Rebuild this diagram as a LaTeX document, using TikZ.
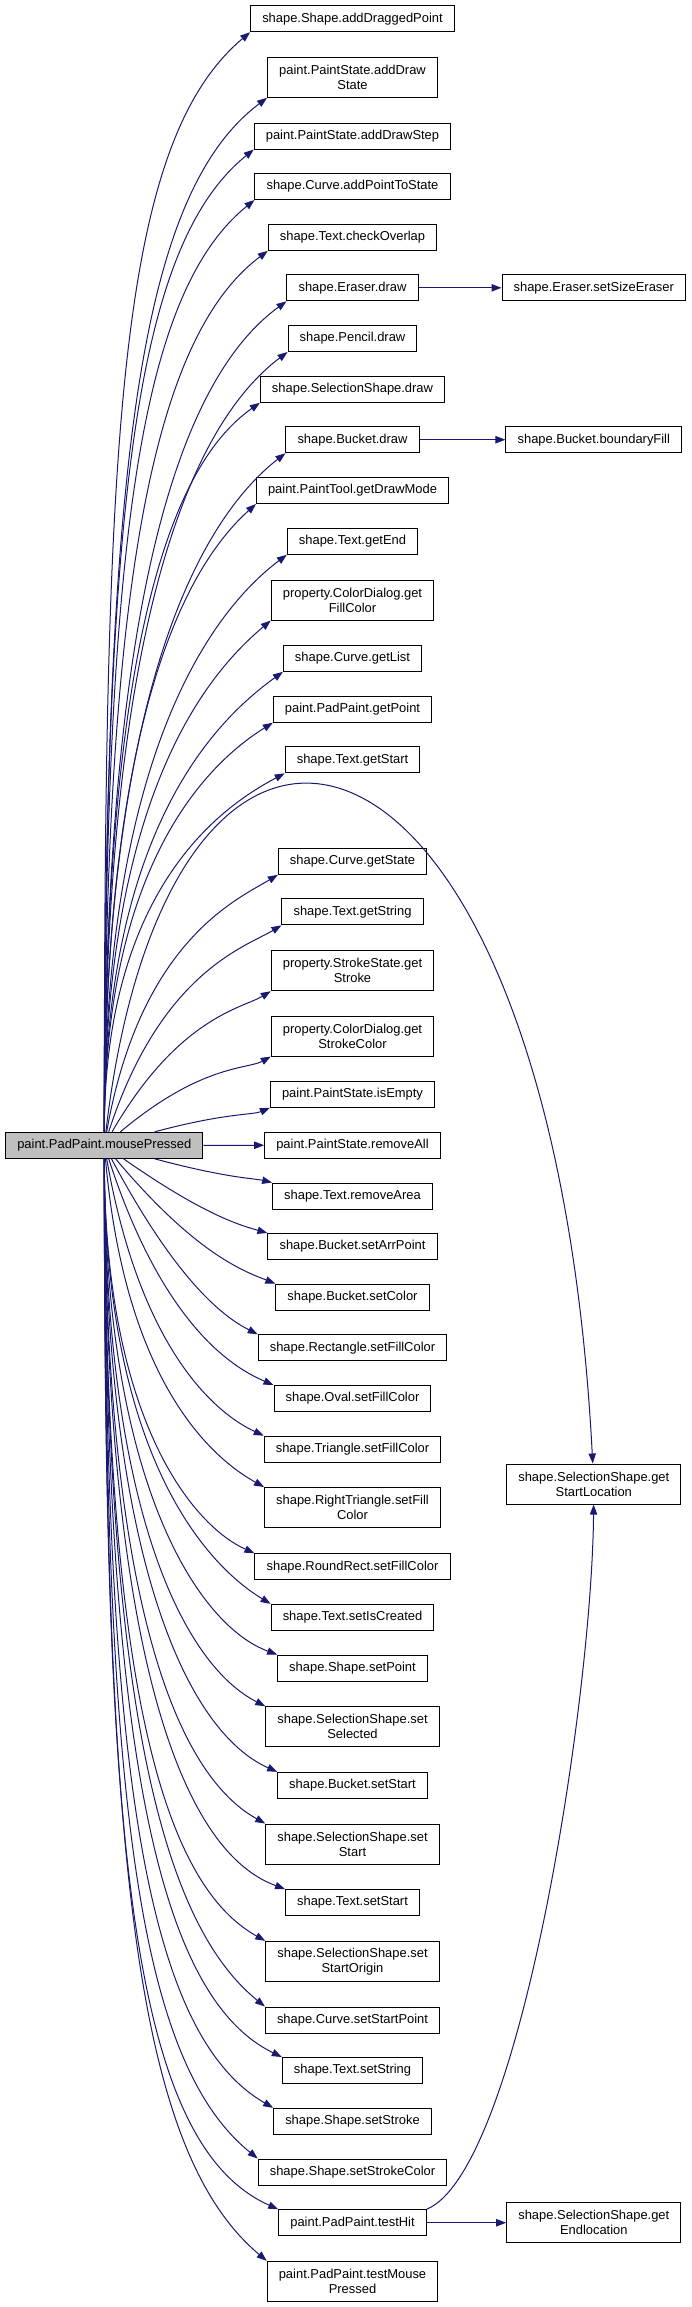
\documentclass[tikz,border=0pt]{standalone}
\usepackage{fontspec}
\setmainfont{Liberation Sans}
\usetikzlibrary{arrows.meta}
\definecolor{edgeblue}{HTML}{191970}
\definecolor{rootgray}{HTML}{BFBFBF}
\tikzset{
  fnnode/.style={draw=black, line width=0.75pt, fill=white, inner xsep=8.7pt, inner ysep=2pt, minimum height=19.5pt, align=center, font=\fontsize{9.7}{11.3}\selectfont},
  fnnode2/.style={fnnode, minimum height=30pt},
  rootnode/.style={fnnode, fill=rootgray},
  callarrow/.style={-{Triangle[length=7.5pt,width=5.5pt]}, draw=edgeblue, line width=0.75pt},
  farcall/.style={callarrow, out looseness=1.6, in looseness=0.4}
}
\begin{document}
\begin{tikzpicture}[x=0.75pt, y=0.75pt]
  \useasboundingbox (0,0) rectangle (692,-2307);
  \node[rootnode] (press) at (104.3,-1145.3) {paint.PadPaint.mousePressed};
  \node[fnnode] (drag) at (352.5,-18.7) {shape.Shape.addDraggedPoint};
  \node[fnnode2] (dstate) at (352.5,-77.3) {paint.PaintState.addDraw\\State};
  \node[fnnode] (dstep) at (352.5,-136) {paint.PaintState.addDrawStep};
  \node[fnnode] (ptstate) at (352.5,-186.5) {shape.Curve.addPointToState};
  \node[fnnode] (overlap) at (352.5,-237.3) {shape.Text.checkOverlap};
  \node[fnnode] (erdraw) at (352.5,-287.8) {shape.Eraser.draw};
  \node[fnnode] (ersize) at (593.8,-287.8) {shape.Eraser.setSizeEraser};
  \node[fnnode] (pcdraw) at (352.5,-338.5) {shape.Pencil.draw};
  \node[fnnode] (seldraw) at (352.5,-389.3) {shape.SelectionShape.draw};
  \node[fnnode] (bkdraw) at (352.5,-439.7) {shape.Bucket.draw};
  \node[fnnode] (bkfill) at (593.8,-439.7) {shape.Bucket.boundaryFill};
  \node[fnnode] (mode) at (352.5,-490.5) {paint.PaintTool.getDrawMode};
  \node[fnnode] (tend) at (352.5,-541.2) {shape.Text.getEnd};
  \node[fnnode2] (fillc) at (352.5,-600) {property.ColorDialog.get\\FillColor};
  \node[fnnode] (clist) at (352.5,-658.3) {shape.Curve.getList};
  \node[fnnode] (gpoint) at (352.5,-709.2) {paint.PadPaint.getPoint};
  \node[fnnode] (tstart) at (352.5,-759.8) {shape.Text.getStart};
  \node[fnnode] (cstate) at (352.5,-861.3) {shape.Curve.getState};
  \node[fnnode] (tstr) at (352.5,-911.8) {shape.Text.getString};
  \node[fnnode2] (stroke) at (352.5,-970.7) {property.StrokeState.get\\Stroke};
  \node[fnnode2] (strokec) at (352.5,-1036) {property.ColorDialog.get\\StrokeColor};
  \node[fnnode] (empty) at (352.5,-1094.3) {paint.PaintState.isEmpty};
  \node[fnnode] (rmall) at (352.5,-1145.2) {paint.PaintState.removeAll};
  \node[fnnode] (rmarea) at (352.5,-1196) {shape.Text.removeArea};
  \node[fnnode] (arrpt) at (352.5,-1246.5) {shape.Bucket.setArrPoint};
  \node[fnnode] (bkcolor) at (352.5,-1297.2) {shape.Bucket.setColor};
  \node[fnnode] (rectfc) at (352.5,-1347.8) {shape.Rectangle.setFillColor};
  \node[fnnode] (ovalfc) at (352.5,-1398.5) {shape.Oval.setFillColor};
  \node[fnnode] (trifc) at (352.5,-1449.2) {shape.Triangle.setFillColor};
  \node[fnnode2] (rtrifc) at (352.5,-1507.5) {shape.RightTriangle.setFill\\Color};
  \node[fnnode] (rrectfc) at (352.5,-1566.7) {shape.RoundRect.setFillColor};
  \node[fnnode] (created) at (352.5,-1617.3) {shape.Text.setIsCreated};
  \node[fnnode] (setpt) at (352.5,-1668) {shape.Shape.setPoint};
  \node[fnnode2] (selected) at (352.5,-1726.7) {shape.SelectionShape.set\\Selected};
  \node[fnnode] (bkstart) at (352.5,-1785.3) {shape.Bucket.setStart};
  \node[fnnode2] (selstart) at (352.5,-1844) {shape.SelectionShape.set\\Start};
  \node[fnnode] (txstart) at (352.5,-1902.5) {shape.Text.setStart};
  \node[fnnode2] (origin) at (352.5,-1961.3) {shape.SelectionShape.set\\StartOrigin};
  \node[fnnode] (cvstart) at (352.5,-2020) {shape.Curve.setStartPoint};
  \node[fnnode] (setstr) at (352.5,-2070.5) {shape.Text.setString};
  \node[fnnode] (setstroke) at (352.5,-2121.3) {shape.Shape.setStroke};
  \node[fnnode] (setstrokec) at (352.5,-2172) {shape.Shape.setStrokeColor};
  \node[fnnode] (hit) at (352.5,-2222.7) {paint.PadPaint.testHit};
  \node[fnnode2] (endloc) at (593.8,-2222.7) {shape.SelectionShape.get\\Endlocation};
  \node[fnnode2] (testmp) at (352.5,-2281.3) {paint.PadPaint.testMouse\\Pressed};
  \node[fnnode2] (startloc) at (593.8,-1484) {shape.SelectionShape.get\\StartLocation};
  % calls going up
  \draw[farcall] (press) to[out=90,in=220] (drag.south west);
  \draw[farcall] (press) to[out=90,in=217] (dstate.south west);
  \draw[farcall] (press) to[out=90,in=219] (dstep.south west);
  \draw[farcall] (press) to[out=90,in=219] (ptstate.south west);
  \draw[farcall] (press) to[out=90,in=217] (overlap.south west);
  \draw[farcall] (press) to[out=90,in=216] (erdraw.south west);
  \draw[farcall] (press) to[out=90,in=217] (pcdraw.south west);
  \draw[farcall] (press) to[out=90,in=215] (seldraw.south west);
  \draw[farcall] (press) to[out=90,in=218] (bkdraw.south west);
  \draw[farcall] (press) to[out=90,in=222] (mode.south west);
  \draw[farcall] (press) to[out=90,in=217] (tend.south west);
  \draw[farcall] (press) to[out=90,in=220] (fillc.south west);
  \draw[farcall] (press) to[out=90,in=216] (clist.south west);
  \draw[farcall] (press) to[out=90,in=212] (gpoint.south west);
  \draw[farcall] (press) to[out=90,in=208] (tstart.south west);
  \draw[farcall] (press) to[out=80,in=211] (cstate.south west);
  \draw[farcall] (press) to[out=72,in=211] (tstr.south west);
  \draw[farcall] (press) to[out=60,in=211] (stroke.south west);
  \draw[farcall] (press) to[out=40,in=209] (strokec.south west);
  \draw[farcall] (press) to[out=15,in=203] (empty.south west);
  \draw[callarrow] (press) -- (rmall);
  % calls going down
  \draw[farcall] (press) to[out=-15,in=167] (rmarea.north west);
  \draw[farcall] (press) to[out=-35,in=164] (arrpt.north west);
  \draw[farcall] (press) to[out=-50,in=158] (bkcolor.north west);
  \draw[farcall] (press) to[out=-62,in=153] (rectfc.north west);
  \draw[farcall] (press) to[out=-72,in=157] (ovalfc.north west);
  \draw[farcall] (press) to[out=-80,in=155] (trifc.north west);
  \draw[farcall] (press) to[out=-85,in=151] (rtrifc.north west);
  \draw[farcall] (press) to[out=-90,in=156] (rrectfc.north west);
  \draw[farcall] (press) to[out=-90,in=149] (created.north west);
  \draw[farcall] (press) to[out=-90,in=160] (setpt.north west);
  \draw[farcall] (press) to[out=-90,in=153] (selected.north west);
  \draw[farcall] (press) to[out=-90,in=156] (bkstart.north west);
  \draw[farcall] (press) to[out=-90,in=151] (selstart.north west);
  \draw[farcall] (press) to[out=-90,in=160] (txstart.north west);
  \draw[farcall] (press) to[out=-90,in=151] (origin.north west);
  \draw[farcall] (press) to[out=-90,in=141] (cvstart.north west);
  \draw[farcall] (press) to[out=-90,in=154] (setstr.north west);
  \draw[farcall] (press) to[out=-90,in=150] (setstroke.north west);
  \draw[farcall] (press) to[out=-90,in=141] (setstrokec.north west);
  \draw[farcall] (press) to[out=-90,in=156] (hit.north west);
  \draw[farcall] (press) to[out=-90,in=140] (testmp.north west);
  % second level
  \draw[callarrow] (erdraw) -- (ersize);
  \draw[callarrow] (bkdraw) -- (bkfill);
  \draw[callarrow] (hit) -- (endloc);
  \draw[callarrow] (press) .. controls (170,-580) and (552,-680) .. (startloc);
  \draw[callarrow] (hit.north east) .. controls (520,-2170) and (592,-1700) .. (startloc);
\end{tikzpicture}
\end{document}
